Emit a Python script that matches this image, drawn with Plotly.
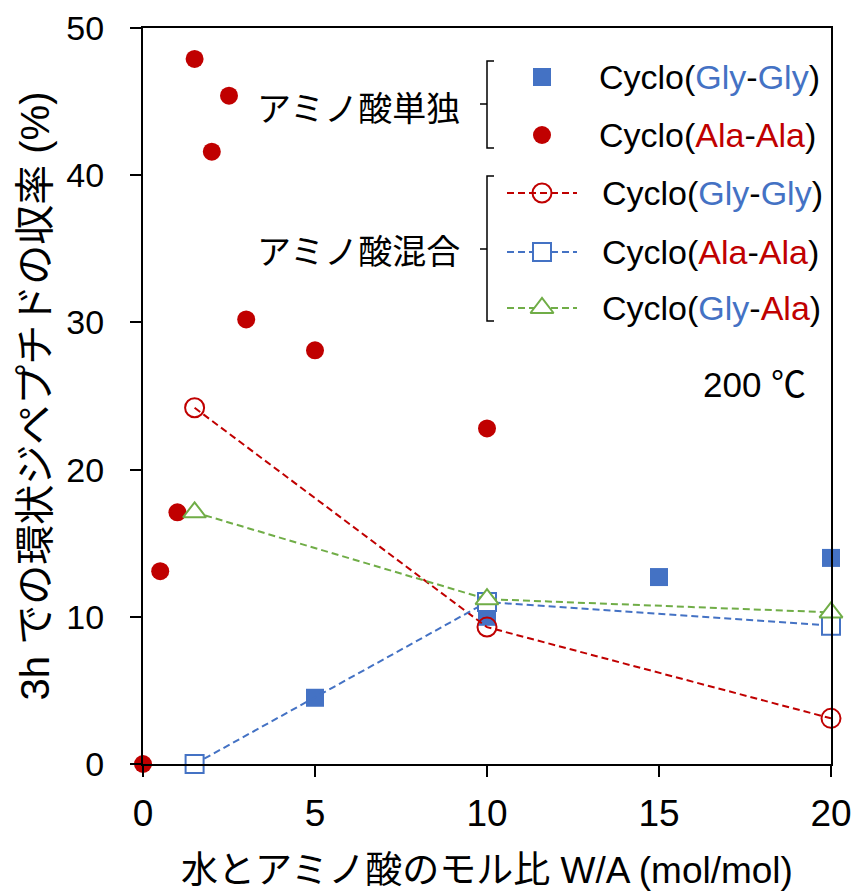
import plotly.graph_objects as go

# ---------------- data ----------------
single_ala_x = [0, 0.5, 1, 1.5, 2, 2.5, 3, 5, 10]
single_ala_y = [0, 13.1, 17.1, 47.9, 41.6, 45.4, 30.2, 28.1, 22.8]

single_gly_x = [5, 10, 15, 20]
single_gly_y = [4.5, 10.0, 12.7, 14.0]

mix_x = [1.5, 10, 20]
mix_glygly_y = [24.2, 9.3, 3.1]
mix_alaala_y = [0.0, 11.0, 9.4]
mix_glyala_y = [17.1, 11.2, 10.3]

x_ticks = [0, 5, 10, 15, 20]
y_ticks = [0, 10, 20, 30, 40, 50]

BLUE = "#4472C4"
RED = "#C00000"
GREEN = "#70AD47"
LAT = "Liberation Sans, Arial, Noto Sans CJK JP"
JP = "Noto Sans CJK JP, Liberation Sans"
DASH = "7px,4px"

fig = go.Figure()

# single amino acid
fig.add_trace(go.Scatter(x=single_gly_x, y=single_gly_y, mode="markers",
                         marker=dict(symbol="square", size=18, color=BLUE),
                         cliponaxis=False, showlegend=False, name="単独 Cyclo(Gly-Gly)"))
fig.add_trace(go.Scatter(x=single_ala_x, y=single_ala_y, mode="markers",
                         marker=dict(symbol="circle", size=18, color=RED),
                         cliponaxis=False, showlegend=False, name="単独 Cyclo(Ala-Ala)"))
# mixed
fig.add_trace(go.Scatter(x=mix_x, y=mix_glygly_y, mode="lines+markers",
                         line=dict(color=RED, width=2, dash=DASH),
                         marker=dict(symbol="circle-open", size=19, color=RED,
                                     line=dict(width=2, color=RED)),
                         cliponaxis=False, showlegend=False, name="混合 Cyclo(Gly-Gly)"))
fig.add_trace(go.Scatter(x=mix_x, y=mix_alaala_y, mode="lines+markers",
                         line=dict(color=BLUE, width=2, dash=DASH),
                         marker=dict(symbol="square", size=18, color="white",
                                     line=dict(width=2, color=BLUE)),
                         cliponaxis=False, showlegend=False, name="混合 Cyclo(Ala-Ala)"))
fig.add_trace(go.Scatter(x=mix_x, y=mix_glyala_y, mode="lines+markers",
                         line=dict(color=GREEN, width=2, dash=DASH),
                         marker=dict(symbol="triangle-up", size=20, color="white",
                                     line=dict(width=2, color=GREEN)),
                         cliponaxis=False, showlegend=False, name="混合 Cyclo(Gly-Ala)"))

# ---------------- custom legend (overlay axes in pixel units) ----------------
L_LINE_X = [507, 577]
L_MARK_X = 542
leg_single = [
    (77, dict(symbol="square", size=18, color=BLUE), None,
     "Cyclo(<span style='color:%s'>Gly</span>-<span style='color:%s'>Gly</span>)" % (BLUE, BLUE)),
    (135, dict(symbol="circle", size=18, color=RED), None,
     "Cyclo(<span style='color:%s'>Ala</span>-<span style='color:%s'>Ala</span>)" % (RED, RED)),
]
leg_mix = [
    (193, dict(symbol="circle-open", size=19, color=RED, line=dict(width=2, color=RED)), RED,
     "Cyclo(<span style='color:%s'>Gly</span>-<span style='color:%s'>Gly</span>)" % (BLUE, BLUE)),
    (252, dict(symbol="square", size=18, color="white", line=dict(width=2, color=BLUE)), BLUE,
     "Cyclo(<span style='color:%s'>Ala</span>-<span style='color:%s'>Ala</span>)" % (RED, RED)),
    (308, dict(symbol="triangle-up", size=20, color="white", line=dict(width=2, color=GREEN)), GREEN,
     "Cyclo(<span style='color:%s'>Gly</span>-<span style='color:%s'>Ala</span>)" % (BLUE, RED)),
]

annotations = []
for y, mk, lc, txt in leg_single + leg_mix:
    if lc:
        fig.add_trace(go.Scatter(x=L_LINE_X, y=[y, y], mode="lines", xaxis="x2", yaxis="y2",
                                 line=dict(color=lc, width=2, dash=DASH),
                                 showlegend=False, hoverinfo="skip"))
    fig.add_trace(go.Scatter(x=[L_MARK_X], y=[y], mode="markers", xaxis="x2", yaxis="y2",
                             marker=mk, showlegend=False, hoverinfo="skip", cliponaxis=False))
    annotations.append(dict(x=597 if lc is None else 600, y=y, xref="x2", yref="y2",
                            text=txt, showarrow=False, xanchor="left", yanchor="middle",
                            font=dict(family=LAT, size=34, color="black")))

annotations += [
    dict(x=462, y=106, xref="x2", yref="y2", text="アミノ酸単独", showarrow=False,
         xanchor="right", yanchor="middle", font=dict(family=JP, size=34, color="black")),
    dict(x=462, y=249, xref="x2", yref="y2", text="アミノ酸混合", showarrow=False,
         xanchor="right", yanchor="middle", font=dict(family=JP, size=34, color="black")),
    dict(x=754, y=384, xref="x2", yref="y2", text="200 ℃", showarrow=False,
         xanchor="center", yanchor="middle", font=dict(family=LAT, size=35, color="black")),
]

brace = dict(type="path", xref="x2", yref="y2", line=dict(color="black", width=1.5))
shapes = [
    dict(brace, path="M494,61 L487,61 L487,148 L494,148 M487,104 L480,104"),
    dict(brace, path="M494,176 L487,176 L487,321 L494,321 M487,249 L480,249"),
]

fig.update_layout(
    width=852, height=895,
    margin=dict(l=143, r=21, t=28, b=131, autoexpand=False),
    plot_bgcolor="white", paper_bgcolor="white",
    annotations=annotations, shapes=shapes,
    xaxis=dict(range=[0, 20], tickvals=x_ticks, showgrid=False, zeroline=False,
               automargin=False,
               showline=True, linecolor="black", linewidth=2, mirror=True,
               ticks="outside", ticklen=11, tickwidth=2, tickcolor="black",
               ticklabelstandoff=5,
               tickfont=dict(family=LAT, size=37, color="black"),
               title=dict(text="水とアミノ酸のモル比 W/A (mol/mol)", standoff=24,
                          font=dict(family=LAT, size=37, color="black"))),
    yaxis=dict(range=[0, 50], tickvals=y_ticks, showgrid=False, zeroline=False,
               automargin=False,
               showline=True, linecolor="black", linewidth=2, mirror=True,
               ticks="outside", ticklen=11, tickwidth=2, tickcolor="black",
               ticklabelstandoff=19,
               tickfont=dict(family=LAT, size=34, color="black"),
               title=dict(text="3h での環状ジペプチドの収率 (%)", standoff=4,
                          font=dict(family=LAT, size=40, color="black"))),
    xaxis2=dict(overlaying="x", range=[143, 831], visible=False, fixedrange=True,
                automargin=False),
    yaxis2=dict(overlaying="y", range=[764, 28], visible=False, fixedrange=True,
                automargin=False),
)

# remove the default 8px page margin so the figure sits at the window's top-left corner
fig.write_html("out.html", config={"displayModeBar": False},
               post_script="document.body.style.margin='0';")
